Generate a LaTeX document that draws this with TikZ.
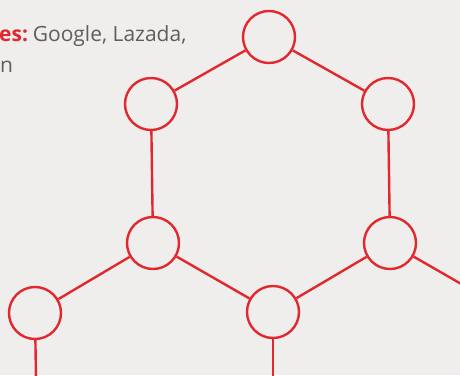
\documentclass[tikz,border=0pt]{standalone}
\usepackage{fontspec}
\setmainfont{Open Sans}
\definecolor{bg}{HTML}{F0EEED}
\definecolor{hexred}{HTML}{E0282E}
\definecolor{txtgrey}{HTML}{5E5E5E}
\begin{document}
\begin{tikzpicture}[x=1pt,y=-1pt,
  hub/.style={circle,draw=hexred,line width=2.4pt,minimum size=52pt,inner sep=0pt},
  bond/.style={draw=hexred,line width=2.4pt},
  lbl/.style={anchor=base west,inner sep=0pt,font=\fontsize{21}{24}\selectfont,text=txtgrey}]
\fill[bg] (0,0) rectangle (460,375);
\useasboundingbox (0,0) rectangle (460,375);
\clip (0,0) rectangle (460,375);
\node[lbl] (t1) at (-1,41) {\textbf{\color{hexred}es:}\hspace{-2.5pt} Google, Lazada,};
\node[lbl] (t2) at (0,72) {n};
\node[hub] (top) at (269,37) {};
\node[hub] (lu) at (151,104) {};
\node[hub] (ru) at (388,104) {};
\node[hub] (lm) at (153,243) {};
\node[hub] (rm) at (390,243) {};
\node[hub] (bm) at (273,312) {};
\node[hub] (bl) at (35,313) {};
\coordinate (blend) at (36,380);
\coordinate (bmend) at (273,380);
\coordinate (rmend) at (470,289);
\draw[bond] (top) -- (lu);
\draw[bond] (top) -- (ru);
\draw[bond] (lu) -- (lm);
\draw[bond] (ru) -- (rm);
\draw[bond] (lm) -- (bl);
\draw[bond] (lm) -- (bm);
\draw[bond] (rm) -- (bm);
\draw[bond] (rm) -- (rmend);
\draw[bond] (bl) -- (blend);
\draw[bond] (bm) -- (bmend);
\end{tikzpicture}
\end{document}
